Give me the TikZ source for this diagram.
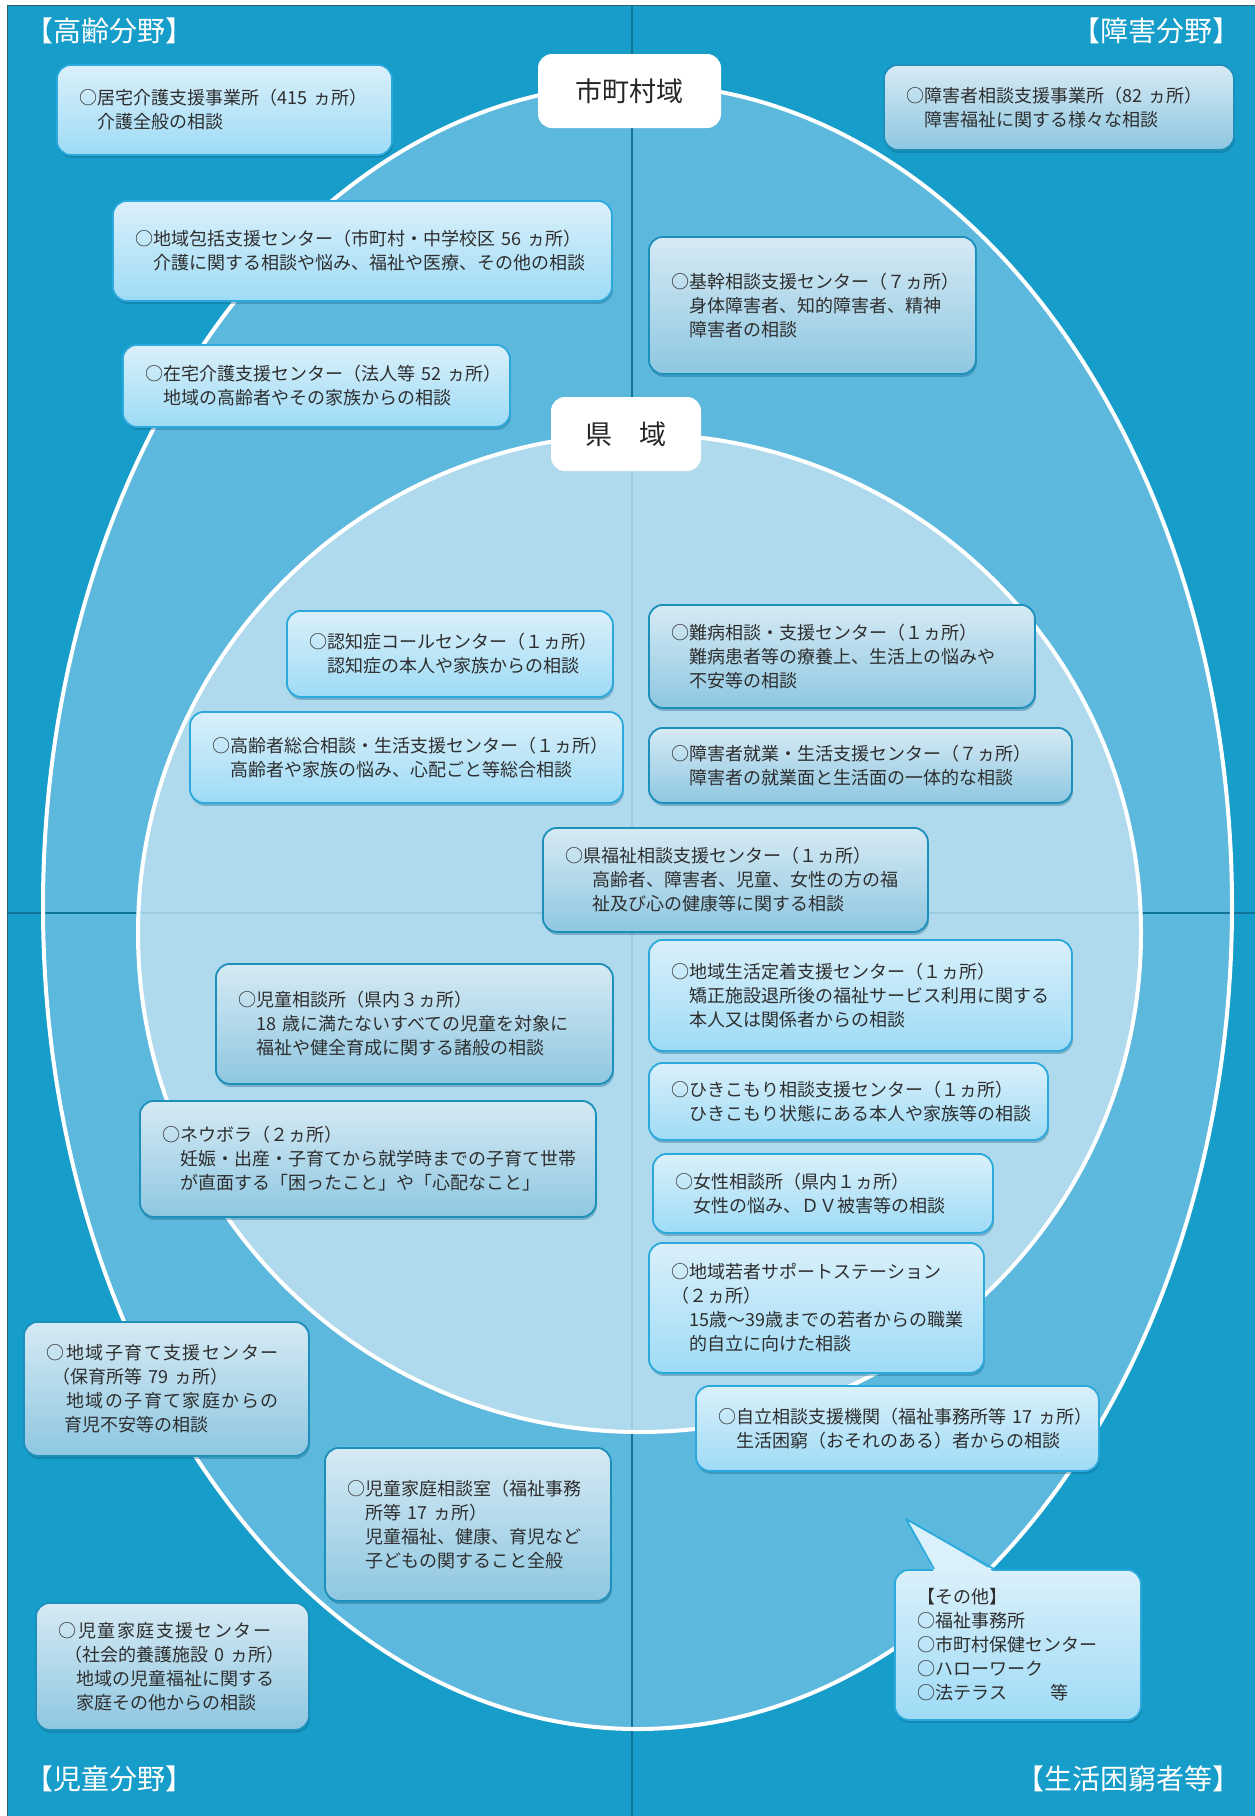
\documentclass[tikz,border=0pt]{standalone}
\usepackage{fontspec}
\setmainfont{Noto Sans CJK JP}
\usetikzlibrary{shadows,calc}
\definecolor{bgdark}{HTML}{169DC9}
\definecolor{ring}{HTML}{5DB8DE}
\definecolor{innerc}{HTML}{AFD9EC}
\definecolor{divdark}{HTML}{0E7396}
\definecolor{divlight}{HTML}{9BCBE1}
\definecolor{aTop}{HTML}{DAF0FA}
\definecolor{aBot}{HTML}{9EDBF6}
\definecolor{aEdge}{HTML}{2BA9DC}
\definecolor{bTop}{HTML}{D6EAF4}
\definecolor{bBot}{HTML}{8EC7E1}
\definecolor{bEdge}{HTML}{1C8FBA}
\definecolor{txt}{HTML}{2E2E2E}
\definecolor{shad}{HTML}{0B5F80}
\definecolor{frame}{HTML}{2F5F70}
\tikzset{
  boxbase/.style={rounded corners=14pt, line width=1.8pt, inner xsep=23pt, inner ysep=4pt,
    align=left, text=txt, font=\fontsize{18}{24}\selectfont,
    drop shadow={shadow xshift=1pt, shadow yshift=-3pt, opacity=0.35, fill=shad}},
  boxA/.style={boxbase, draw=aEdge, top color=aTop, bottom color=aBot},
  boxB/.style={boxbase, draw=bEdge, top color=bTop, bottom color=bBot},
  region/.style={fill=white, rounded corners=14pt, inner sep=0pt, text=black!85,
    font=\fontsize{27}{30}\selectfont},
  field/.style={text=white, inner sep=0pt, font=\fontsize{28}{30}\selectfont},
  divline/.style={line width=1.2pt},
  rim/.style={draw=white, line width=4pt}
}
\newcommand\mybox[7]{%
  \pgfmathsetmacro\mbh{#6-#4}%
  \pgfmathsetmacro\mbw{#5-#3-46}%
  \node[#2, anchor=north west, text width=\mbw pt, minimum height=\mbh pt] (#1) at (#3,#4) {#7};}
\newcommand\ls[1]{{\addfontfeature{LetterSpace=8}#1}}
\begin{document}
\begin{tikzpicture}[x=1pt,y=-1pt]
\useasboundingbox (0,0) rectangle (1255,1816);
\fill[white] (0,0) rectangle (1255,1816);
\filldraw[fill=bgdark, draw=frame, line width=1pt] (7,5) rectangle (1256,1817);
% outer region
\fill[ring] (637.5,906.5) ellipse [x radius=594.5pt, y radius=822.5pt];
\coordinate (vt) at (632,5);
\coordinate (vb) at (632,1816);
\coordinate (hl) at (7,913);
\coordinate (hr) at (1255,913);
\draw[divline, divdark] (vt) -- (vb) (hl) -- (hr);
% inner region
\fill[innerc] (639.5,933) ellipse [x radius=501.5pt, y radius=499pt];
\begin{scope}
  \clip (639.5,933) ellipse [x radius=501.5pt, y radius=499pt];
  \draw[divline, divlight] (vt) -- (vb) (hl) -- (hr);
\end{scope}
\draw[rim] (637.5,906.5) ellipse [x radius=594.5pt, y radius=822.5pt];
\draw[rim] (639.5,933) ellipse [x radius=501.5pt, y radius=499pt];

% boxes
\mybox{kyotaku}{boxA}{56}{64}{391}{154}{○居宅介護支援事業所（415~ヵ所）\\　介護全般の相談}
\mybox{houkatsu}{boxA}{112}{200}{611}{300}{○地域包括支援センター（市町村・中学校区~56~ヵ所）\\　介護に関する相談や悩み、福祉や医療、その他の相談}
\mybox{zaitaku}{boxA}{122}{344}{509}{426}{○在宅介護支援センター（法人等~52~ヵ所）\\　地域の高齢者やその家族からの相談}
\mybox{shougai}{boxB}{883}{64}{1233}{149}{○障害者相談支援事業所（82~ヵ所）\\　障害福祉に関する様々な相談}
\mybox{kikan}{boxB}{648}{236}{975}{373}{○基幹相談支援センター（７ヵ所）\\　身体障害者、知的障害者、精神\\　障害者の相談}
\mybox{ninchi}{boxA}{286}{610}{612}{696}{○認知症コールセンター（１ヵ所）\\　認知症の本人や家族からの相談}
\mybox{koureisha}{boxA}{189}{711}{622}{802}{○高齢者総合相談・生活支援センター（１ヵ所）\\　高齢者や家族の悩み、心配ごと等総合相談}
\mybox{nanbyou}{boxB}{648}{604}{1034}{707}{○難病相談・支援センター（１ヵ所）\\　難病患者等の療養上、生活上の悩みや\\　不安等の相談}
\mybox{shuugyou}{boxB}{648}{727}{1071}{802}{○障害者就業・生活支援センター（７ヵ所）\\　障害者の就業面と生活面の一体的な相談}
\mybox{kenfukushi}{boxB}{542}{827}{927}{931}{○県福祉相談支援センター（１ヵ所）\\\hspace*{0.5em}　高齢者、障害者、児童、女性の方の福\\\hspace*{0.5em}　祉及び心の健康等に関する相談}
\mybox{jidou}{boxB}{215}{963}{612}{1083}{○児童相談所（県内３ヵ所）\\　18~歳に満たないすべての児童を対象に\\　福祉や健全育成に関する諸般の相談}
\mybox{teichaku}{boxA}{648}{939}{1071}{1050}{○地域生活定着支援センター（１ヵ所）\\　矯正施設退所後の福祉サービス利用に関する\\　本人又は関係者からの相談}
\mybox{hikikomori}{boxA}{648}{1062}{1047}{1139}{○ひきこもり相談支援センター（１ヵ所）\\　ひきこもり状態にある本人や家族等の相談}
\mybox{neubora}{boxB}{139}{1100}{595}{1216}{○ネウボラ（２ヵ所）\\　妊娠・出産・子育てから就学時までの子育て世帯\\　が直面する「困ったこと」や「心配なこと」}
\mybox{josei}{boxA}{652}{1153}{992}{1232}{○女性相談所（県内１ヵ所）\\　女性の悩み、ＤＶ被害等の相談}
\mybox{wakamono}{boxA}{648}{1242}{983}{1372}{○地域若者サポートステーション\\（２ヵ所）\\　15歳～39歳までの若者からの職業\\　的自立に向けた相談}
\mybox{jiritsu}{boxA}{695}{1385}{1098}{1470}{○自立相談支援機関（福祉事務所等~17~ヵ所）\\　生活困窮（おそれのある）者からの相談}
\mybox{kosodate}{boxB}{23}{1321}{308}{1455}{\ls{○地域子育て支援センター}\\\hspace*{0.3em}（保育所等~79~ヵ所）\\\ls{　地域の子育て家庭からの}\\　育児不安等の相談}
\mybox{katei}{boxB}{324}{1447}{610}{1600}{○児童家庭相談室（福祉事務\\　所等~17~ヵ所）\\　児童福祉、健康、育児など\\　子どもの関すること全般}
\mybox{kateishien}{boxB}{35}{1602}{308}{1729}{\ls{○児童家庭支援センター}\\\hspace*{0.3em}（社会的養護施設~0~ヵ所）\\　地域の児童福祉に関する\\　家庭その他からの相談}
\mybox{other}{boxA}{894}{1569}{1140}{1719}{【その他】\\○福祉事務所\\○市町村保健センター\\○ハローワーク\\○法テラス\hspace{2.4em}等}
% callout pointer
\coordinate (pl) at ($(other.north west)+(40,0)$);
\coordinate (pt) at ($(other.north west)+(12,-50)$);
\coordinate (pr) at ($(other.north west)+(100,0)$);
\fill[aTop] ($(pl)+(0,2.5)$) -- (pt) -- ($(pr)+(0,2.5)$) -- cycle;
\draw[aEdge, line width=1.8pt, line join=round] (pl) -- (pt) -- (pr);

% region labels
\node[region, minimum width=183pt, minimum height=74pt] (muni) at (629.5,91) {市町村域};
\node[region, minimum width=150pt, minimum height=74pt] (pref) at (626,434) {県　域};
% field labels
\node[field, anchor=west] (f1) at (25,31) {【高齢分野】};
\node[field, anchor=east] (f2) at (1241,31) {【障害分野】};
\node[field, anchor=west] (f3) at (25,1779) {【児童分野】};
\node[field, anchor=east] (f4) at (1241,1779) {【生活困窮者等】};
\end{tikzpicture}
\end{document}
